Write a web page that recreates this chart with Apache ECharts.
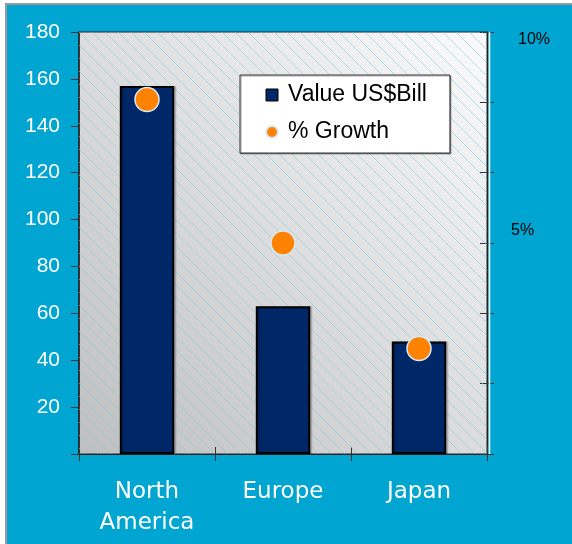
<!DOCTYPE html>
<html>
<head>
<meta charset="utf-8">
<script src="https://cdn.jsdelivr.net/npm/echarts@6/dist/echarts.min.js"></script>
<style>
  html, body { margin: 0; padding: 0; background: #ffffff; }
  #frame {
    position: absolute; left: 5px; top: 3px; width: 567px; height: 541px;
    background: #00a5d2; border-left: 2px solid #9a9a9a; border-top: 2px solid #9a9a9a;
    box-sizing: border-box;
  }
  #chart { position: absolute; left: 0; top: 0; width: 572px; height: 544px; }
</style>
</head>
<body>
<div id="frame"></div>
<div id="chart"></div>
<script>
// Chart data
const categories = ['North\nAmerica', 'Europe', 'Japan'];
const valueBill = [157, 63, 48];
const growthPct = [8.4, 5.0, 2.5];
const growthLabels = { 5: '5%', 10: '10%' };

const BAR_COLOR = '#002868';
const DOT_COLOR = '#ff8200';

// diagonal hatch tile for the plot area
function makeHatch() {
  const size = 13;
  const c = document.createElement('canvas');
  c.width = size;
  c.height = size;
  const ctx = c.getContext('2d');
  ctx.strokeStyle = 'rgba(130, 205, 230, 0.6)';
  ctx.lineWidth = 1;
  ctx.beginPath();
  ctx.moveTo(-2, -2);
  ctx.lineTo(size + 2, size + 2);
  ctx.moveTo(-2, size - 2);
  ctx.lineTo(2, size + 2);
  ctx.moveTo(size - 2, -2);
  ctx.lineTo(size + 2, 2);
  ctx.stroke();
  return c;
}

const chart = echarts.init(document.getElementById('chart'));

const grid = { left: 79, right: 85, top: 32, bottom: 90 };

const option = {
  backgroundColor: 'transparent',
  animation: false,
  grid: {
    ...grid,
    show: true,
    borderColor: '#222',
    borderWidth: 1,
    backgroundColor: {
      type: 'linear', x: 0, y: 1, x2: 1, y2: 0,
      colorStops: [
        { offset: 0, color: '#bfbfbf' },
        { offset: 1, color: '#fbfbfb' },
      ],
    },
  },
  graphic: [
    {
      type: 'rect',
      x: grid.left,
      y: grid.top,
      shape: { x: 0, y: 0, width: 572 - grid.left - grid.right, height: 544 - grid.top - grid.bottom },
      style: { fill: { image: makeHatch(), repeat: 'repeat' } },
      z: 1,
      silent: true,
    },
    {
      type: 'line',
      shape: { x1: 489.5, y1: grid.top, x2: 489.5, y2: 544 - grid.bottom },
      style: { stroke: '#ffffff', lineWidth: 1.5 },
      z: 1,
      silent: true,
    },
  ],
  legend: {
    orient: 'vertical',
    left: 240,
    top: 75,
    padding: [7, 23, 8, 25],
    itemGap: 11,
    itemWidth: 12,
    itemHeight: 12,
    backgroundColor: '#ffffff',
    borderColor: '#333',
    borderWidth: 1,
    shadowColor: 'rgba(0,0,0,0.35)',
    shadowOffsetX: 1,
    shadowOffsetY: 1,
    textStyle: {
      fontFamily: 'Liberation Sans',
      fontSize: 23,
      color: '#000',
      lineHeight: 26,
      padding: [0, 0, 0, 5],
    },
    data: [
      { name: 'Value US$Bill', icon: 'rect', itemStyle: { borderColor: '#000', borderWidth: 1 } },
      { name: '% Growth', icon: 'circle' },
    ],
  },
  xAxis: [
    {
      type: 'category',
      data: categories,
      axisLine: { show: true, lineStyle: { color: '#222', width: 1 } },
      axisTick: { show: true, length: 7, lineStyle: { color: '#333' } },
      axisLabel: {
        color: '#ffffff',
        fontFamily: 'DejaVu Sans',
        fontSize: 23,
        lineHeight: 31,
        margin: 23,
      },
      splitLine: { show: false },
    },
    {
      type: 'category',
      data: categories,
      position: 'bottom',
      axisLine: { show: false },
      axisTick: { show: true, inside: true, length: 7, lineStyle: { color: '#333' } },
      axisLabel: { show: false },
    },
  ],
  yAxis: [
    {
      type: 'value',
      min: 0,
      max: 180,
      interval: 20,
      axisLine: { show: true, lineStyle: { color: '#222', width: 1.5 } },
      axisTick: { show: true, length: 8, lineStyle: { color: '#333' } },
      axisLabel: {
        color: '#ffffff',
        fontFamily: 'Liberation Sans',
        fontSize: 21,
        margin: 19,
        formatter: (v) => (v === 0 ? '' : String(v)),
      },
      splitLine: { show: false },
    },
    {
      type: 'value',
      position: 'right',
      min: 0,
      max: 10,
      interval: 10 / 6,
      axisLine: { show: true, lineStyle: { color: '#222', width: 1 } },
      axisTick: { show: true, length: 7, lineStyle: { color: '#333' } },
      axisLabel: {
        color: '#000',
        fontFamily: 'Liberation Sans',
        fontSize: 16,
        margin: 24,
        align: 'left',
        formatter: (v) => {
          const r = Math.round(v * 100) / 100;
          if (r === 10) return '{t|' + growthLabels[10] + '}';
          if (r === 5) return '{f|' + growthLabels[5] + '}';
          return '';
        },
        rich: {
          t: { fontFamily: 'Liberation Sans', fontSize: 16, color: '#000', padding: [16, 0, 0, 7] },
          f: { fontFamily: 'Liberation Sans', fontSize: 16, color: '#000', padding: [0, 0, 24, 0] },
        },
      },
      splitLine: { show: false },
    },
    {
      type: 'value',
      position: 'right',
      min: 0,
      max: 10,
      interval: 10 / 6,
      axisLine: { show: false },
      axisTick: { show: true, inside: true, length: 7, lineStyle: { color: '#333' } },
      axisLabel: { show: false },
      splitLine: { show: false },
    },
  ],
  series: [
    {
      name: 'Value US$Bill',
      type: 'bar',
      data: valueBill,
      barWidth: '40%',
      z: 3,
      itemStyle: {
        color: BAR_COLOR,
        borderColor: '#000',
        borderWidth: 2,
        shadowColor: 'rgba(0,0,0,0.18)',
        shadowOffsetX: 2,
        shadowBlur: 1,
      },
    },
    {
      name: '% Growth',
      type: 'scatter',
      yAxisIndex: 1,
      data: growthPct,
      symbol: 'circle',
      symbolSize: 24,
      z: 4,
      itemStyle: {
        color: DOT_COLOR,
        opacity: 1,
        borderColor: '#d6ecf6',
        borderWidth: 1.5,
      },
    },
  ],
};

chart.setOption(option);
</script>
</body>
</html>
